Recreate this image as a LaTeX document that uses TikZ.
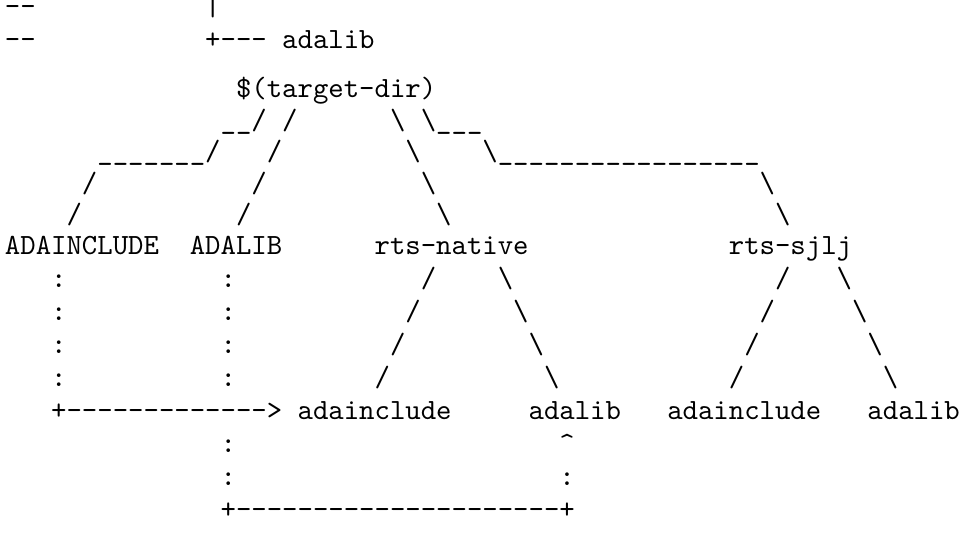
\documentclass[tikz,border=0pt]{standalone}
\usepackage{fontspec}
\setmonofont{Latin Modern Mono}
\newcounter{tn}
% #1 = column, #2 = baseline depth below top (pt), #3 = text
\newcommand\tx[3]{\stepcounter{tn}\node[txt] (t\arabic{tn}) at ({1.7pt+#1*5.25pt},{-#2pt}) {#3};}
\newcommand\hy{-\kern0pt}
\newcommand\bs{\char92}
\newcommand\us{\char95}
\newcommand\ha{\char94}
\begin{document}
\begin{tikzpicture}[x=1pt,y=1pt,
  txt/.style={anchor=base west,inner sep=0pt,outer sep=0pt,font=\ttfamily\fontsize{10pt}{12pt}\selectfont}]
\fill[white] (0,0) rectangle (326.9,-189.5);
\useasboundingbox (0,0) rectangle (326.9,-189.5);
% row 1
\tx{0}{5.28}{\hy\hy}
\tx{13}{5.28}{|}
% row 2
\tx{0}{16.53}{\hy\hy}
\tx{13}{16.53}{+\hy\hy\hy{} adalib}
% row 3
\tx{15}{33.27}{\char36(target\hy dir)}
% row 4
\tx{14}{44.0}{\us\us/}
\tx{18}{44.0}{/}
\tx{25}{44.0}{\bs}
\tx{27}{44.0}{\bs\us\us\us}
% row 5
\tx{6}{54.74}{\us\us\us\us\us\us\us/}
\tx{17}{54.74}{/}
\tx{26}{54.74}{\bs}
\tx{31}{54.74}{\bs\us\us\us\us\us\us\us\us\us\us\us\us\us\us\us\us\us}
% row 6
\tx{5}{65.47}{/}
\tx{16}{65.47}{/}
\tx{27}{65.47}{\bs}
\tx{49}{65.47}{\bs}
% row 7
\tx{4}{76.21}{/}
\tx{15}{76.21}{/}
\tx{28}{76.21}{\bs}
\tx{50}{76.21}{\bs}
% row 8
\tx{0}{86.91}{ADAINCLUDE}
\tx{12}{86.91}{ADALIB}
\tx{24}{86.91}{rts\hy native}
\tx{47}{86.91}{rts\hy sjlj}
% rows 9-12
\tx{3}{98.16}{:}\tx{14}{98.16}{:}\tx{27}{98.16}{/}\tx{32}{98.16}{\bs}\tx{50}{98.16}{/}\tx{54}{98.16}{\bs}
\tx{3}{109.41}{:}\tx{14}{109.41}{:}\tx{26}{109.41}{/}\tx{33}{109.41}{\bs}\tx{49}{109.41}{/}\tx{55}{109.41}{\bs}
\tx{3}{120.66}{:}\tx{14}{120.66}{:}\tx{25}{120.66}{/}\tx{34}{120.66}{\bs}\tx{48}{120.66}{/}\tx{56}{120.66}{\bs}
\tx{3}{131.91}{:}\tx{14}{131.91}{:}\tx{24}{131.91}{/}\tx{35}{131.91}{\bs}\tx{47}{131.91}{/}\tx{57}{131.91}{\bs}
% row 13
\tx{3}{143.16}{+\hy\hy\hy\hy\hy\hy\hy\hy\hy\hy\hy\hy\hy>}
\tx{19}{143.16}{adainclude}
\tx{34}{143.16}{adalib}
\tx{43}{143.16}{adainclude}
\tx{56}{143.16}{adalib}
% row 14
\tx{14}{154.41}{:}
\tx{36}{154.41}{\ha}
% row 15
\tx{14}{165.66}{:}
\tx{36}{165.66}{:}
% row 16
\tx{14}{176.91}{+\hy\hy\hy\hy\hy\hy\hy\hy\hy\hy\hy\hy\hy\hy\hy\hy\hy\hy\hy\hy\hy+}
\end{tikzpicture}
\end{document}
